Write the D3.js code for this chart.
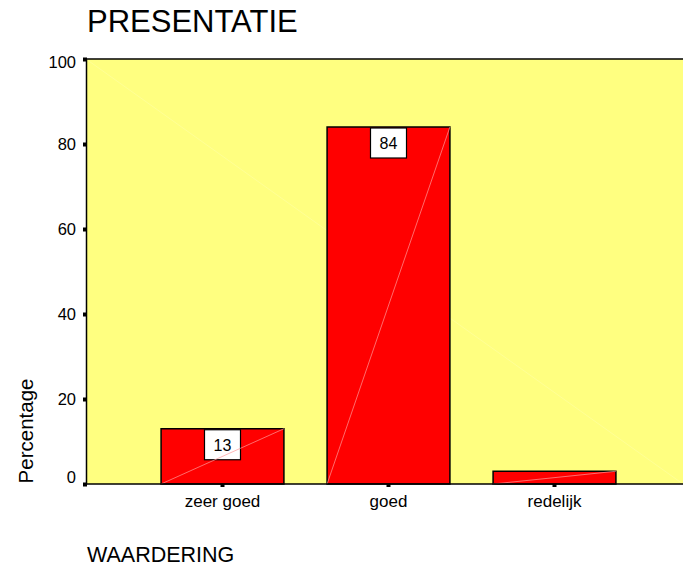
<!DOCTYPE html>
<html>
<head>
<meta charset="utf-8">
<script src="https://cdn.jsdelivr.net/npm/d3@7"></script>
<style>
  body { margin: 0; background: #fff; }
  text { font-family: Arial, "Liberation Sans", sans-serif; fill: #000; }
</style>
</head>
<body>
<svg id="chart"></svg>
<script>
const categories = ["zeer goed", "goed", "redelijk"];
const percentages = [13, 84, 3];
const barLabels = ["13", "84", null];
const yTicks = [0, 20, 40, 60, 80, 100];

const width = 683, height = 566;
const plot = { left: 86, top: 59, right: 683, bottom: 484 };
const fontFamily = "Arial, 'Liberation Sans', sans-serif";

const svg = d3.select("#chart").attr("width", width).attr("height", height);

const x = d3.scaleBand()
  .domain(categories)
  .range([139.5, 637.5])
  .paddingInner(0.26)
  .paddingOuter(0.13);

const y = d3.scaleLinear().domain([0, 100]).range([plot.bottom, plot.top]);

// plot background
svg.append("rect")
  .attr("x", plot.left).attr("y", plot.top)
  .attr("width", plot.right - plot.left).attr("height", plot.bottom - plot.top)
  .attr("fill", "#ffff80");

svg.append("line")
  .attr("x1", plot.left).attr("y1", plot.top)
  .attr("x2", plot.right).attr("y2", plot.bottom)
  .attr("stroke", "#fff").attr("stroke-opacity", 0.25).attr("stroke-width", 0.7);

// bars
const bars = svg.selectAll(".bar").data(categories).enter().append("g").attr("class", "bar");

bars.append("rect")
  .attr("x", d => x(d))
  .attr("y", (d, i) => y(percentages[i]))
  .attr("width", x.bandwidth())
  .attr("height", (d, i) => y(0) - y(percentages[i]))
  .attr("fill", "#ff0000")
  .attr("stroke", "#000")
  .attr("stroke-width", 1.5);

// value boxes
const boxW = 36, boxH = 30;
bars.filter((d, i) => barLabels[i] !== null).each(function (d) {
  const i = categories.indexOf(d);
  const g = d3.select(this);
  const cx = x(d) + x.bandwidth() / 2;
  const top = y(percentages[i]) + 1;
  g.append("rect")
    .attr("x", cx - boxW / 2).attr("y", top)
    .attr("width", boxW).attr("height", boxH)
    .attr("fill", "#fff").attr("stroke", "#000").attr("stroke-width", 1.2);
  g.append("text")
    .attr("x", cx).attr("y", top + boxH / 2 + 6)
    .attr("text-anchor", "middle")
    .attr("font-size", 16)
    .text(barLabels[i]);
});

bars.append("line")
  .attr("x1", d => x(d))
  .attr("y1", y(0))
  .attr("x2", d => x(d) + x.bandwidth())
  .attr("y2", (d, i) => y(percentages[i]))
  .attr("stroke", "#ff9a9a")
  .attr("stroke-width", 0.7);

// frame lines
svg.append("line")
  .attr("x1", plot.left).attr("y1", plot.top).attr("x2", plot.right).attr("y2", plot.top)
  .attr("stroke", "#000").attr("stroke-width", 1.5);
svg.append("line")
  .attr("x1", plot.left).attr("y1", plot.bottom).attr("x2", plot.right).attr("y2", plot.bottom)
  .attr("stroke", "#000").attr("stroke-width", 1.5);

// y axis
const yAxis = svg.append("g").attr("transform", `translate(${plot.left},0)`)
  .call(d3.axisLeft(y).tickValues(yTicks).tickSize(0).tickPadding(10));
yAxis.select(".domain").attr("stroke", "#000").attr("stroke-width", 1.5);
yAxis.selectAll(".tick text")
  .attr("font-size", 16.5).attr("font-family", fontFamily).attr("fill", "#000")
  .attr("dy", d => d === 0 ? "-0.12em" : d === 100 ? "0.5em" : "0.34em");
yAxis.selectAll(".tick").append("rect")
  .attr("x", -3).attr("y", -2).attr("width", 4).attr("height", 4).attr("fill", "#000");

// x axis
const xAxis = svg.append("g").attr("transform", `translate(0,${plot.bottom})`)
  .call(d3.axisBottom(x).tickSize(0).tickPadding(11));
xAxis.select(".domain").remove();
xAxis.selectAll(".tick text").attr("font-size", 17).attr("font-family", fontFamily).attr("fill", "#000");
xAxis.selectAll(".tick").append("rect")
  .attr("x", -2).attr("y", 0).attr("width", 4).attr("height", 3).attr("fill", "#000");

// titles
svg.append("text").attr("x", 87).attr("y", 32).attr("font-size", 31).text("PRESENTATIE");
svg.append("text")
  .attr("transform", `translate(33,431) rotate(-90)`)
  .attr("text-anchor", "middle")
  .attr("font-size", 20.5)
  .text("Percentage");
svg.append("text").attr("x", 87).attr("y", 562).attr("font-size", 21.5).text("WAARDERING");
</script>
</body>
</html>
